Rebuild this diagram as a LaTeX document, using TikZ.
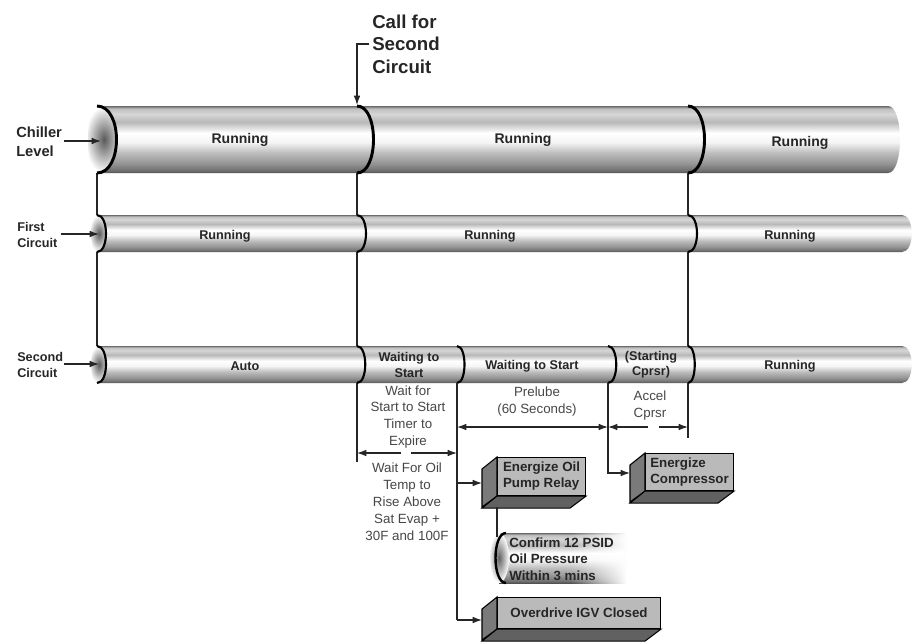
\documentclass[tikz,border=0pt]{standalone}
\usepackage{fontspec}
\setmainfont{Liberation Sans}
\usetikzlibrary{arrows.meta}
\pgfdeclareverticalshading{cylsh}{100bp}{color(0bp)=(black!68); color(25bp)=(black!68); color(27bp)=(black!56); color(32bp)=(black!42); color(40bp)=(black!26); color(48bp)=(black!4); color(55bp)=(white); color(63bp)=(black!28); color(69bp)=(black!16); color(73bp)=(black!25); color(75bp)=(black!58); color(100bp)=(black!58)}
\newcommand\hcyl[5]{\shade[shading=cylsh] (#1,#2) -- (#3,#2) .. controls ({#3+#5},#2) and ({#3+#5},#4) .. (#3,#4) -- (#1,#4) -- cycle;}
\newcommand\cylcap[5]{%
  \shade[inner color=black!65, outer color=white] (#1,#2) .. controls ({#1+#4},#2) and ({#1+#4},#3) .. (#1,#3) .. controls ({#1-#5},#3) and ({#1-#5},#2) .. (#1,#2) -- cycle;}
\newcommand\divarc[5]{\draw[line width=#5] (#1,#2) .. controls ({#1+#4},#2) and ({#1+#4},#3) .. (#1,#3);}
\tikzset{
  rowbig/.style={font=\bfseries\fontsize{10.5}{12}\selectfont, text=black!85},
  rowlbl/.style={font=\bfseries\fontsize{9.5}{11.5}\selectfont, text=black!85, align=center},
  sidelbl/.style={font=\bfseries\fontsize{9.5}{12}\selectfont, text=black!85, align=left, inner sep=0pt},
  calllbl/.style={font=\bfseries\fontsize{14}{17}\selectfont, text=black!85, align=left, inner sep=0pt},
  note/.style={font=\fontsize{10}{12.7}\selectfont, text=black!72, align=center, inner sep=0pt},
  boxtxt/.style={font=\bfseries\fontsize{10}{12}\selectfont, text=black!85, align=left},
  conn/.style={draw=black!85, line width=0.9pt},
  arr/.style={conn, -{Latex[length=7pt,width=5pt]}},
  dimarr/.style={conn, {Latex[length=7pt,width=5pt]}-{Latex[length=7pt,width=5pt]}},
  frontface/.style={draw=black, line width=0.8pt, fill=black!27, inner sep=2pt},
  sideface/.style={draw=black, line width=0.8pt, fill=black!52},
  botface/.style={draw=black, line width=0.8pt, fill=black!62}
}
\begin{document}
\begin{tikzpicture}[x=0.75pt,y=-0.75pt]
\useasboundingbox (0,0) rectangle (920,643);
\fill[white] (0,0) rectangle (920,643);

% ---------- vertical event lines (behind the cylinders)
\coordinate (v1t) at (97,173);  \coordinate (v1b) at (97,346);
\coordinate (v2t) at (357,173); \coordinate (v2b) at (357,462);
\coordinate (v3t) at (688,173); \coordinate (v3b) at (688,438);
\draw[conn] (v1t) -- (v1b);
\draw[conn] (v2t) -- (v2b);
\draw[conn] (v3t) -- (v3b);

% ---------- Chiller level cylinder
\hcyl{97}{106}{888}{173}{16}
\cylcap{97}{106}{173}{26}{12}
\divarc{97}{106}{173}{26}{2.2pt}
\divarc{357}{106}{173}{22}{2.2pt}
\divarc{688}{106}{173}{22}{2.2pt}

% ---------- First circuit cylinder
\hcyl{97}{215}{902}{252}{13}
\cylcap{97}{215}{252}{12}{8}
\divarc{97}{215}{252}{12}{1.6pt}
\divarc{357}{215}{252}{12}{1.6pt}
\divarc{688}{215}{252}{12}{1.6pt}

% ---------- Second circuit cylinder
\hcyl{97}{346}{902}{383}{13}
\cylcap{97}{346}{383}{12}{8}
\divarc{97}{346}{383}{12}{1.6pt}
\divarc{357}{346}{383}{11}{1.6pt}
\divarc{457}{346}{383}{10}{1.6pt}
\divarc{608}{346}{383}{11}{1.6pt}
\divarc{688}{346}{383}{9}{1.6pt}

% ---------- row texts
\node[rowbig] (c1) at (240,140) {Running};
\node[rowbig] (c2) at (523,140) {Running};
\node[rowbig] (c3) at (800,143) {Running};
\node[rowlbl] (f1) at (225,236) {Running};
\node[rowlbl] (f2) at (490,236) {Running};
\node[rowlbl] (f3) at (790,236) {Running};
\node[rowlbl] (s1) at (245,366) {Auto};
\node[rowlbl] (s2) at (409,365) {Waiting to\\Start};
\node[rowlbl] (s3) at (532,366) {Waiting to Start};
\node[rowlbl] (s4) at (651,365) {(Starting\\Cprsr)};
\node[rowlbl] (s5) at (790,366) {Running};

% ---------- side labels
\node[sidelbl, font=\bfseries\fontsize{11}{14}\selectfont, anchor=west] (chl) at (16,142) {Chiller\\Level};
\node[sidelbl, anchor=west] (fcl) at (17,235) {First\\Circuit};
\node[sidelbl, anchor=west] (scl) at (17,365) {Second\\Circuit};
\coordinate (chlT) at (101,141);
\coordinate (fclT) at (99,234);
\coordinate (sclT) at (99,364);
\draw[arr] (chl.east) ++(2,-1) -- (chlT);
\draw[arr] (fcl.east) ++(3,-1) -- (fclT);
\draw[arr] (scl.east) ++(1,-1) -- (sclT);

% ---------- call for second circuit
\node[calllbl, anchor=west] (call) at (372,44) {Call for\\Second\\Circuit};
\coordinate (callT) at (357,105);
\draw[arr] ([xshift=-2pt]call.west) -- (call.west -| callT) -- (callT);

% ---------- timing notes
\node[note] (n1) at (408,417) {Wait for\\Start to Start\\Timer to\\Expire};
\node[note] (n2) at (537,402) {Prelube\\(60 Seconds)};
\node[note] (n3) at (650,406) {Accel\\Cprsr};
\node[note] (n4) at (407,502) {Wait For Oil\\Temp  to\\Rise Above\\Sat Evap +\\30F and 100F};

\coordinate (d1a) at (357,453); \coordinate (d1m) at (401,453);
\coordinate (d1n) at (411,453); \coordinate (d1b) at (457,453);
\draw[arr] (d1m) -- (d1a);
\draw[arr] (d1n) -- (d1b);
\coordinate (d2a) at (457,427); \coordinate (d2b) at (608,427);
\draw[dimarr] (d2a) -- (d2b);
\coordinate (d3a) at (608,427); \coordinate (d3m) at (648,427);
\coordinate (d3n) at (659,427); \coordinate (d3b) at (688,427);
\draw[arr] (d3m) -- (d3a);
\draw[arr] (d3n) -- (d3b);

% ---------- action boxes
\node[frontface, boxtxt, anchor=north west, minimum width=66pt, minimum height=28.5pt] (pump) at (497,457) {Energize Oil\\Pump Relay};
\filldraw[sideface] (pump.north west) -- ++(-15,12) -- ++(0,38) -- (pump.south west) -- cycle;
\filldraw[botface] (pump.south west) -- ++(-15,12) -- ++(88,0) -- (pump.south east) -- cycle;

\node[frontface, boxtxt, anchor=north west, minimum width=66pt, minimum height=27.75pt] (comp) at (645,453) {Energize\\Compressor};
\filldraw[sideface] (comp.north west) -- ++(-15,12) -- ++(0,37) -- (comp.south west) -- cycle;
\filldraw[botface] (comp.south west) -- ++(-15,12) -- ++(88,0) -- (comp.south east) -- cycle;

\node[frontface, boxtxt, anchor=north west, minimum width=122.25pt, minimum height=23.25pt, align=center] (igv) at (497,597) {Overdrive IGV Closed};
\filldraw[sideface] (igv.north west) -- ++(-15,12) -- ++(0,31) -- (igv.south west) -- cycle;
\filldraw[botface] (igv.south west) -- ++(-15,12) -- ++(163,0) -- (igv.south east) -- cycle;

% ---------- confirm oil pressure (faded cylinder)
\shade[shading=cylsh] (499,533) rectangle (572,583);
\foreach \i in {0,...,26} {
  \pgfmathsetmacro\op{1-(\i+1)/28}
  \shade[shading=cylsh, opacity=\op] ({572+\i*2},533) rectangle ({574+\i*2},583);
}
\shade[inner color=black!62, outer color=white] (499,558) ellipse [x radius=10, y radius=25];
\draw[line width=1.8pt] (506,533) .. controls (492,533) and (492,583) .. (506,583);
\node[boxtxt, anchor=west, inner sep=0pt, font=\bfseries\fontsize{10}{12.3}\selectfont] (conf) at (509,559) {Confirm 12 PSID\\Oil Pressure\\Within 3 mins};

% ---------- connectors to boxes
\coordinate (v4t) at (457,383);
\coordinate (v4b) at (457,620);
\coordinate (pumpIn) at (482,483);
\coordinate (igvIn) at (482,620);
\draw[conn] (v4t) -- (v4b);
\draw[arr] (pumpIn -| v4t) -- (pumpIn);
\draw[arr] (v4b) -- (igvIn);

\coordinate (v5t) at (608,383);
\coordinate (compIn) at (630,473);
\draw[arr] (v5t) |- (compIn);

\coordinate (pumpB) at (497,507);
\coordinate (confT) at (497,537);
\draw[conn] (pumpB) -- (confT);
\end{tikzpicture}
\end{document}
